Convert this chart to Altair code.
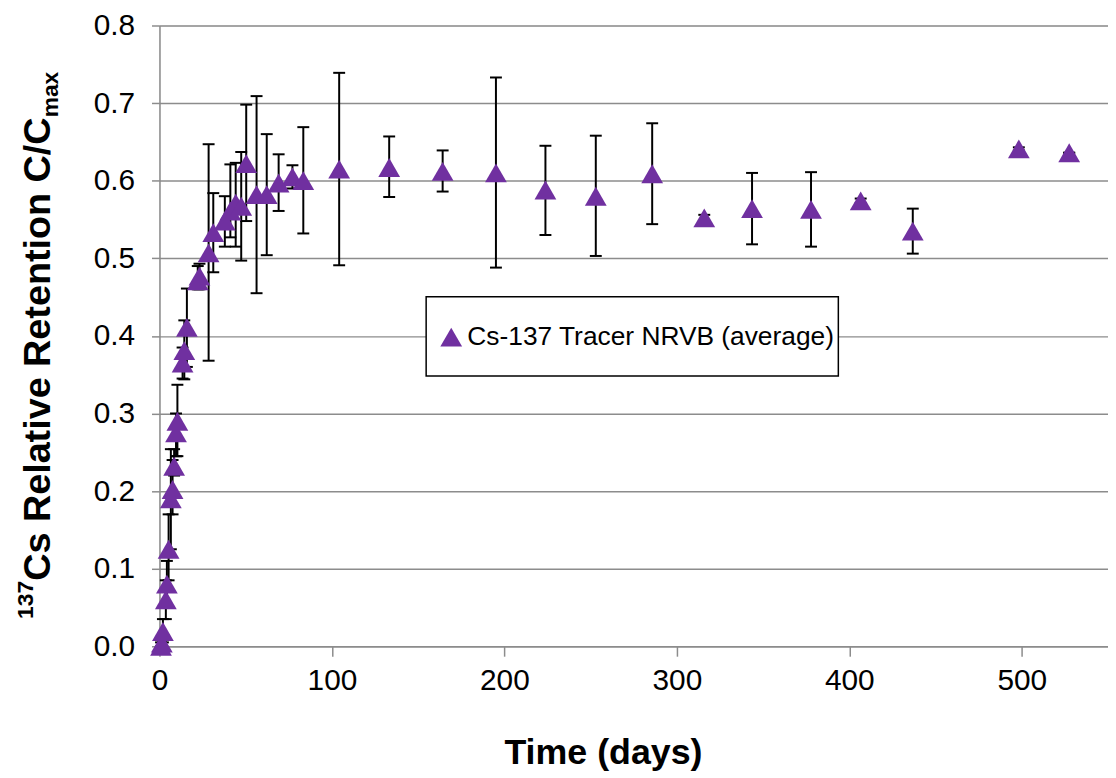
import altair as alt
import pandas as pd

# Time (days) of each sample
days = [0.9, 1.4, 2.0, 3.7, 4.3, 5.3, 6.6, 7.6, 8.5, 9.6, 10.4, 13.4, 14.4, 15.9,
        22.2, 23.2, 28.5, 31.2, 37.9, 41.1, 44.2, 47.4, 50.3, 56.3, 62.2, 69.1,
        77.1, 83.4, 104.2, 133.2, 164.2, 195.1, 223.8, 253.0, 285.7, 315.9, 343.6,
        377.8, 406.6, 436.8, 498.3, 527.5]
# Relative retention C/Cmax (average)
retention = [0.000, 0.004, 0.019, 0.060, 0.080, 0.125, 0.190, 0.202, 0.232, 0.275,
             0.290, 0.365, 0.381, 0.411, 0.471, 0.477, 0.507, 0.533, 0.548, 0.561,
             0.571, 0.567, 0.622, 0.582, 0.582, 0.597, 0.605, 0.600, 0.615, 0.617,
             0.612, 0.610, 0.588, 0.580, 0.609, 0.552, 0.564, 0.563, 0.574, 0.535,
             0.641, 0.636]
# Error bar lower / upper ends
err_low = [0.000, 0.000, 0.005, 0.035, 0.050, 0.085, 0.125, 0.170, 0.220, 0.245,
           0.245, 0.345, 0.344, 0.360, 0.460, 0.460, 0.368, 0.482, 0.515, 0.527,
           0.515, 0.497, 0.548, 0.455, 0.504, 0.561, 0.590, 0.532, 0.491, 0.579,
           0.586, 0.488, 0.530, 0.503, 0.544, 0.548, 0.518, 0.515, 0.571, 0.506,
           0.639, 0.636]
err_high = [0.005, 0.010, 0.035, 0.085, 0.110, 0.170, 0.254, 0.240, 0.254, 0.300,
            0.337, 0.385, 0.420, 0.461, 0.490, 0.493, 0.647, 0.584, 0.580, 0.621,
            0.623, 0.637, 0.698, 0.709, 0.660, 0.634, 0.620, 0.669, 0.739, 0.657,
            0.639, 0.733, 0.645, 0.658, 0.674, 0.556, 0.610, 0.611, 0.577, 0.564,
            0.643, 0.636]

series_name = "Cs-137 Tracer NRVB (average)"
x_ticks = [0, 100, 200, 300, 400, 500]
y_ticks = [0.0, 0.1, 0.2, 0.3, 0.4, 0.5, 0.6, 0.7, 0.8]

df = pd.DataFrame({
    "days": days,
    "ret": retention,
    "lo": err_low,
    "hi": err_high,
    "series": [series_name] * len(days),
})

FONT = "Liberation Sans"
PURPLE = "#7030A0"
GRID = "#8c8c8c"

W, H = 955, 625

x_scale = alt.Scale(domain=[0, 550], nice=False, zero=False, padding=0)
y_scale = alt.Scale(domain=[0, 0.8], nice=False, padding=0)

x_axis = alt.Axis(values=x_ticks, grid=False, domainColor=GRID, domainWidth=1.5,
                  tickColor=GRID, tickSize=10, tickWidth=1.5, labelFontSize=30,
                  labelFont=FONT, labelColor="black", labelPadding=10,
                  labelFlush=False,
                  title="Time (days)", titleFont=FONT, titleFontSize=36,
                  titleFontWeight="bold", titleColor="black", titleX=446.5,
                  titleY=118, titleAlign="center", titleBaseline="alphabetic",
                  titleAnchor="start")
y_axis = alt.Axis(values=y_ticks, format=".1f", grid=True, gridColor=GRID,
                  gridWidth=1.5, domainColor=GRID, domainWidth=1.5, tickColor=GRID,
                  tickSize=8, tickWidth=1.5, labelFontSize=30, labelFont=FONT,
                  labelColor="black", labelPadding=17, labelFlush=False, title=None)

one = pd.DataFrame({"k": [0]})

# legend frame (white box with black border)
frame = alt.Chart(one).mark_rect(fill="white", stroke="black", strokeWidth=1.5).encode(
    x=alt.value(268.5), x2=alt.value(683.5), y=alt.value(273), y2=alt.value(353))

base = alt.Chart(df)

bars = base.mark_rule(color="black", strokeWidth=2).encode(
    x=alt.X("days:Q", scale=x_scale, axis=x_axis),
    y=alt.Y("lo:Q", scale=y_scale, axis=y_axis),
    y2="hi:Q",
)
cap_lo = base.mark_tick(orient="horizontal", color="black", size=12, thickness=2,
                        opacity=1).encode(x="days:Q", y="lo:Q")
cap_hi = base.mark_tick(orient="horizontal", color="black", size=12, thickness=2,
                        opacity=1).encode(x="days:Q", y="hi:Q")

points = base.mark_point(shape="triangle-up", filled=True, size=480,
                         opacity=1).encode(
    x="days:Q",
    y="ret:Q",
    color=alt.Color("series:N", scale=alt.Scale(range=[PURPLE]),
                    legend=alt.Legend(orient="none", legendX=280.5, legendY=300.5,
                                      title=None, labelFontSize=26.5, labelFont=FONT,
                                      labelColor="black", labelLimit=0,
                                      symbolType="triangle-up", symbolSize=480,
                                      symbolStrokeWidth=0, symbolOpacity=1,
                                      padding=0, labelOffset=3)),
)

t_sup = alt.Chart(one).mark_text(text="137", font=FONT, fontSize=23, fontWeight="bold",
                                 angle=270, align="left", baseline="alphabetic",
                                 color="black").encode(
    x=alt.value(-127.5), y=alt.value(597.5))
t_main = alt.Chart(one).mark_text(text="Cs Relative Retention C/C", font=FONT,
                                  fontSize=38, fontWeight="bold", angle=270,
                                  align="left", baseline="alphabetic",
                                  color="black").encode(
    x=alt.value(-110.5), y=alt.value(559.1))
t_sub = alt.Chart(one).mark_text(text="max", font=FONT, fontSize=23, fontWeight="bold",
                                 angle=270, align="left", baseline="alphabetic",
                                 color="black").encode(
    x=alt.value(-102.5), y=alt.value(92.5))

chart = alt.layer(frame, bars, cap_lo, cap_hi, points, t_sup, t_main, t_sub).properties(
    width=W, height=H,
    autosize=alt.AutoSizeParams(type="none"),
    padding={"left": 152.5, "top": 15, "right": 0, "bottom": 128},
).configure_view(stroke=None).configure(background="white")

chart.save("out.html", embed_options={"renderer": "svg", "actions": False})
